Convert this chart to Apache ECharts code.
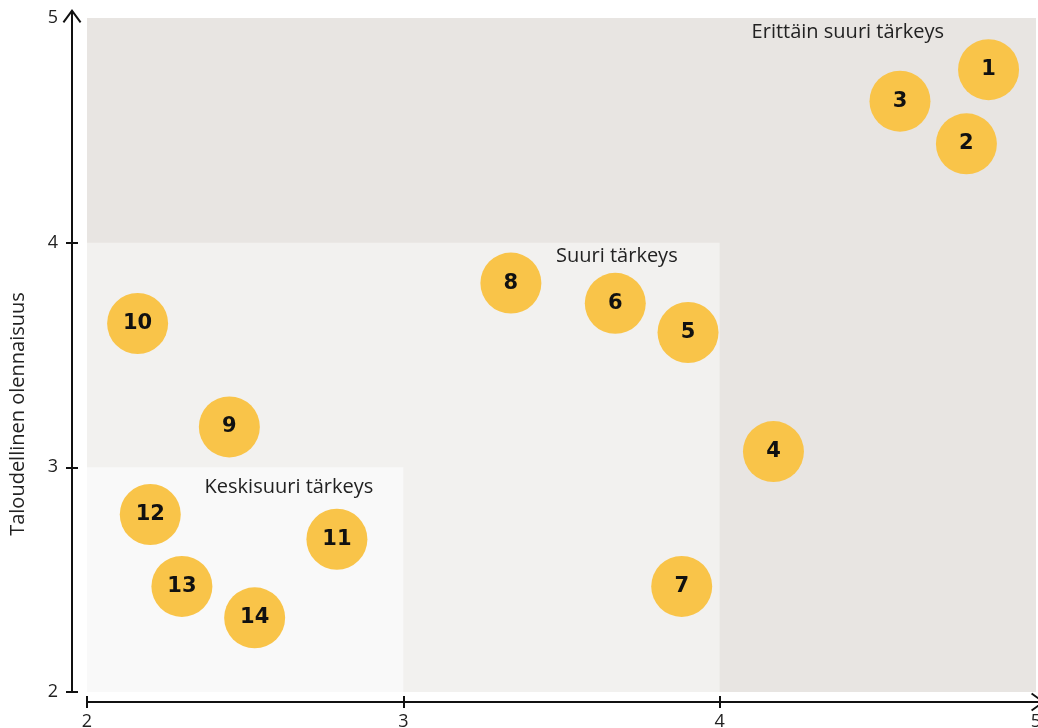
<!DOCTYPE html>
<html>
<head>
<meta charset="utf-8">
<script src="https://cdn.jsdelivr.net/npm/echarts@6/dist/echarts.min.js"></script>
<style>
  html, body { margin: 0; padding: 0; background: #fff; }
  #chart { width: 1038px; height: 728px; }
</style>
</head>
<body>
<div id="chart"></div>
<script>
// bubble ids and their positions
const ids = ["1", "2", "3", "4", "5", "6", "7", "8", "9", "10", "11", "12", "13", "14"];
const xVals = [4.85, 4.78, 4.57, 4.17, 3.90, 3.67, 3.88, 3.34, 2.45, 2.16, 2.79, 2.20, 2.30, 2.53];
const yVals = [4.77, 4.44, 4.63, 3.07, 3.60, 3.73, 2.47, 3.82, 3.18, 3.64, 2.68, 2.79, 2.47, 2.33];

// importance zones (lower-left corner is always 2,2)
const zoneNames = ["Erittäin suuri tärkeys", "Suuri tärkeys", "Keskisuuri tärkeys"];
const zoneMaxX = [5, 4, 3];
const zoneMaxY = [5, 4, 3];

const yName = "Taloudellinen olennaisuus";

const zoneColors = ["#E8E5E2", "#F2F1EF", "#F9F9F9"];
const zoneOffsets = [[-92, 4], [-42, 4], [-30, 10]];

const arrowPath = "path://M0,13 L9.5,0 L19,13 L17.4,14.2 L10.5,4.8 L10.5,14 L8.5,14 L8.5,4.8 L1.6,14.2 Z";
const font = "'Open Sans', 'Noto Sans', sans-serif";

const chart = echarts.init(document.getElementById("chart"));

const gridBox = { left: 87, right: 2, top: 18, bottom: 36, outerBoundsMode: "none", containLabel: false };

chart.setOption({
  animation: false,
  grid: [
    Object.assign({}, gridBox),
    Object.assign({}, gridBox)
  ],
  xAxis: [
    {
      type: "value", gridIndex: 0, min: 2, max: 5, interval: 1, offset: 10,
      splitLine: { show: false },
      axisLine: {
        lineStyle: { color: "#111", width: 2 },
        symbol: ["none", arrowPath], symbolSize: [19, 14], symbolOffset: [0, 2]
      },
      axisTick: { length: 6, lineStyle: { color: "#111", width: 2 }, customValues: [2, 3, 4] },
      axisLabel: { color: "#222", fontSize: 18, fontFamily: font, margin: 11 }
    },
    {
      type: "value", gridIndex: 1, min: 2, max: 5, interval: 1, offset: 10,
      splitLine: { show: false },
      axisLine: { show: false },
      axisTick: { inside: true, length: 6, lineStyle: { color: "#111", width: 2 }, customValues: [2, 3, 4] },
      axisLabel: { show: false }
    }
  ],
  yAxis: [
    {
      type: "value", gridIndex: 0, min: 2, max: 5, interval: 1, offset: 15,
      splitLine: { show: false },
      axisLine: {
        lineStyle: { color: "#111", width: 2 },
        symbol: ["none", arrowPath], symbolSize: [19, 14], symbolOffset: [0, 2]
      },
      axisTick: { length: 6, lineStyle: { color: "#111", width: 2 }, customValues: [2, 3, 4] },
      axisLabel: { color: "#222", fontSize: 18, fontFamily: font, margin: 14 },
      name: yName,
      nameLocation: "middle",
      nameGap: 44,
      nameTextStyle: { color: "#222", fontSize: 20, fontFamily: font, padding: [0, 118, 0, 0] }
    },
    {
      type: "value", gridIndex: 1, min: 2, max: 5, interval: 1, offset: 15,
      splitLine: { show: false },
      axisLine: { show: false },
      axisTick: { inside: true, length: 6, lineStyle: { color: "#111", width: 2 }, customValues: [2, 3, 4] },
      axisLabel: { show: false }
    }
  ],
  series: [
    {
      type: "scatter",
      xAxisIndex: 0, yAxisIndex: 0,
      data: [],
      silent: true,
      z: 1,
      markArea: {
        silent: true,
        data: zoneNames.map(function (name, i) {
          return [
            {
              xAxis: 2, yAxis: 2, name: name,
              itemStyle: { color: zoneColors[i] },
              label: {
                show: true, position: "insideTopRight", distance: 0,
                offset: zoneOffsets[i],
                color: "#222", fontSize: 20, fontFamily: font
              }
            },
            { xAxis: zoneMaxX[i], yAxis: zoneMaxY[i] }
          ];
        })
      }
    },
    {
      type: "scatter",
      xAxisIndex: 0, yAxisIndex: 0,
      z: 3,
      symbolSize: 61,
      itemStyle: { color: "#F9C449", opacity: 1 },
      label: {
        show: true, position: "inside",
        formatter: function (p) { return p.value[2]; },
        color: "#111", fontSize: 21, fontWeight: "bold", fontFamily: "'DejaVu Sans', sans-serif"
      },
      data: ids.map(function (id, i) { return [xVals[i], yVals[i], id]; })
    }
  ]
});
</script>
</body>
</html>
